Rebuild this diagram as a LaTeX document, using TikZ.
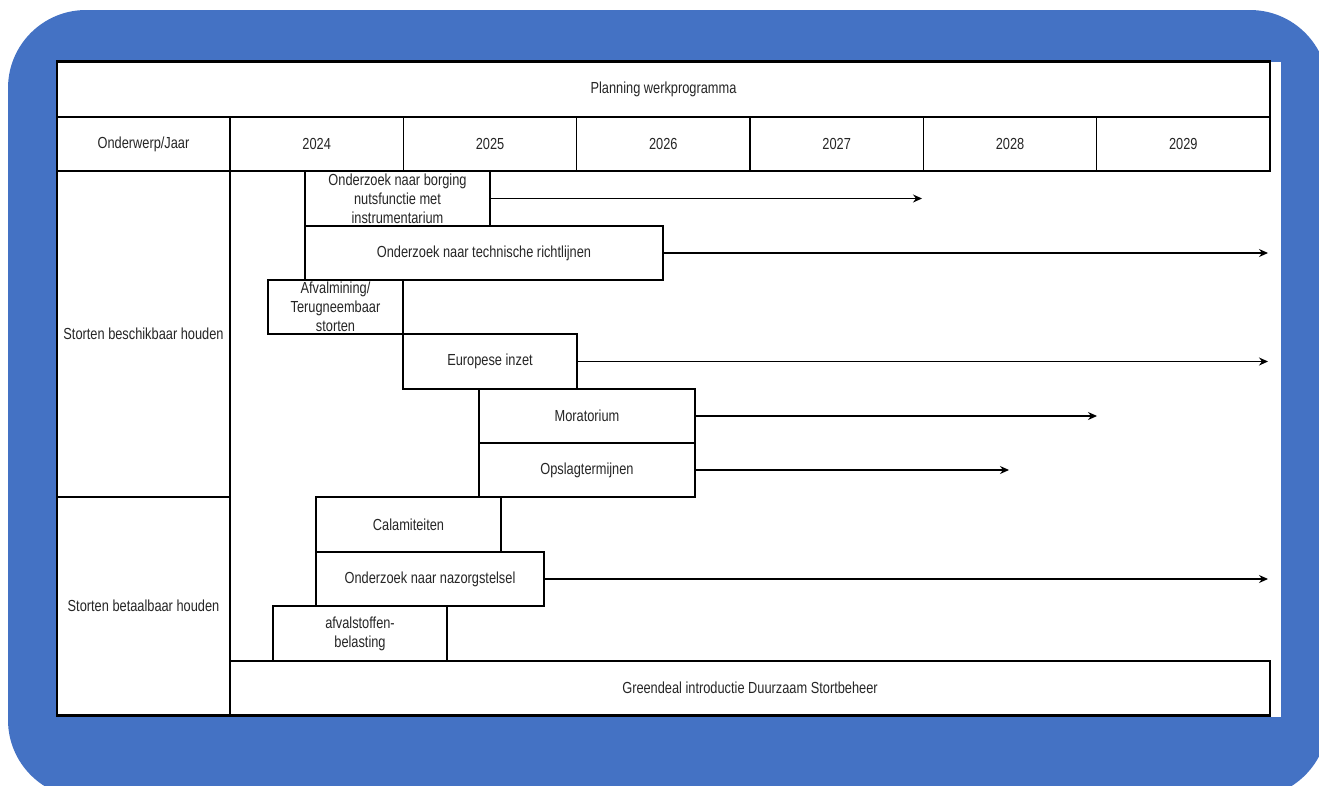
\documentclass[tikz,border=0pt]{standalone}
\usepackage{fontspec}
\setmainfont{Liberation Sans}[FakeStretch=0.8]
\usetikzlibrary{arrows.meta}
\definecolor{frameblue}{RGB}{68,114,196}

\begin{document}
\begin{tikzpicture}
  [x=1pt,y=-1pt,line width=1.2pt,
   every node/.style={draw,rectangle,inner sep=0pt,align=center,text=black!85,
     font=\fontsize{16}{19}\selectfont}]
  \useasboundingbox (0,0) rectangle (1319,785);
  \clip (0,0) rectangle (1319,785);
  \fill[frameblue,rounded corners=78pt] (8,10) rectangle (1328,798);
  \fill[white] (57,62) rectangle (1281,717);

  % kop van de tabel
  \node[minimum width=1213pt,minimum height=55pt] (title) at (663.5,89.5) {Planning werkprogramma};
  \node[minimum width=173pt,minimum height=54pt] (head) at (143.5,144) {Onderwerp/Jaar};
  \foreach \yr [count=\i from 0] in {2024,...,2029}
    \node[minimum width=173.33pt,minimum height=54pt] (y\yr) at (316.67+173.33*\i,144) {\yr};

  % onderwerpen
  \node[minimum width=173pt,minimum height=326pt] (keep) at (143.5,334) {Storten beschikbaar houden};
  \node[minimum width=173pt,minimum height=218pt] (pay)  at (143.5,606) {Storten betaalbaar houden};

  % activiteiten
  \node[minimum width=185pt,minimum height=55pt] (borging)    at (397.5,198.5) {Onderzoek naar borging\\nutsfunctie met\\instrumentarium};
  \node[minimum width=358pt,minimum height=54pt] (richtlijn)  at (484,253)     {Onderzoek naar technische richtlijnen};
  \node[minimum width=135pt,minimum height=54pt] (mining)     at (335.5,307)   {Afvalmining/\\Terugneembaar\\storten};
  \node[minimum width=174pt,minimum height=55pt] (europa)     at (490,361.5)   {Europese inzet};
  \node[minimum width=216pt,minimum height=54pt] (moratorium) at (587,416)     {Moratorium};
  \node[minimum width=216pt,minimum height=54pt] (opslag)     at (587,470)     {Opslagtermijnen};
  \node[minimum width=185pt,minimum height=55pt] (calamiteit) at (408.5,524.5) {Calamiteiten};
  \node[minimum width=228pt,minimum height=54pt] (nazorg)     at (430,579)     {Onderzoek naar nazorgstelsel};
  \node[minimum width=174pt,minimum height=55pt] (belasting)  at (360,633.5)   {afvalstoffen-\\belasting};
  \node[minimum width=1040pt,minimum height=54pt] (greendeal) at (750,688)     {Greendeal introductie Duurzaam Stortbeheer};

  \coordinate (eborging)    at (922,198.5);
  \coordinate (erichtlijn)  at (1268,253);
  \coordinate (eeuropa)     at (1268,361.5);
  \coordinate (emoratorium) at (1097,416);
  \coordinate (eopslag)     at (1009,470);
  \coordinate (enazorg)     at (1268,579);

  \foreach \from/\to in {borging/eborging,richtlijn/erichtlijn,europa/eeuropa,
      moratorium/emoratorium,opslag/eopslag,nazorg/enazorg}
    \draw[-{Stealth[length=9pt,width=8pt]}] (\from) -- (\to);

  \draw[line width=2pt] (title.north west) -- (title.north east);
  \draw[line width=2pt] (pay.south west) -- (greendeal.south east);
\end{tikzpicture}
\end{document}
